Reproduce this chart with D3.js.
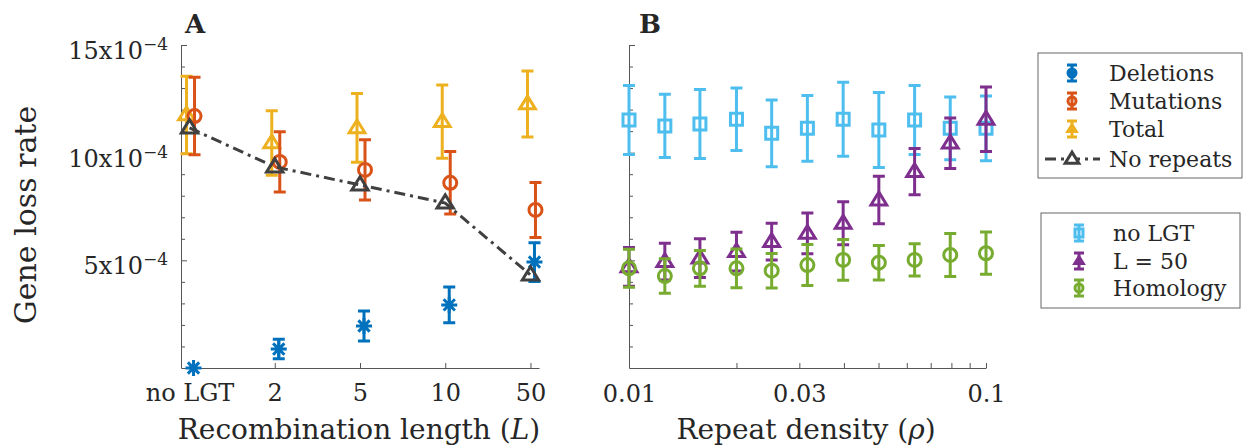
<!DOCTYPE html>
<html>
<head>
    <title>Gene loss rate</title>
    <script src="https://d3js.org/d3.v7.min.js"></script>
    <style>
        body { margin: 0; background: #fff; }
        text { font-family: "DejaVu Serif", serif; fill: #262626; }
        .axis path, .axis line { stroke: #555; stroke-width: 1px; }
    </style>
</head>
<body>
    <script>
        // gene loss rates are given in units of 1e-4
        const catsA = ["no LGT", "2", "5", "10", "50"];
        const delMean = [0, 0.88, 1.95, 2.93, 4.92];
        const delErr  = [0, 0.45, 0.7, 0.83, 0.9];
        const mutMean = [11.7, 9.57, 9.2, 8.6, 7.34];
        const mutErr  = [1.8, 1.4, 1.4, 1.45, 1.28];
        const totMean = [11.75, 10.45, 11.15, 11.44, 12.26];
        const totErr  = [1.8, 1.5, 1.6, 1.7, 1.53];
        const noRepeats = [11.15, 9.34, 8.5, 7.66, 4.32];

        const rho = [0.01, 0.0126, 0.0158, 0.02, 0.0251, 0.0316, 0.0398, 0.0501, 0.0631, 0.0794, 0.1];
        const noLgtMean = [11.52, 11.24, 11.33, 11.55, 10.9, 11.13, 11.55, 11.05, 11.52, 11.13, 11.13];
        const noLgtErr  = [1.6, 1.47, 1.6, 1.45, 1.55, 1.53, 1.72, 1.74, 1.6, 1.46, 1.5];
        const l50Mean = [4.7, 4.94, 5.1, 5.4, 5.87, 6.25, 6.72, 7.8, 9.12, 10.44, 11.55];
        const l50Err  = [0.9, 0.85, 0.9, 0.9, 0.85, 0.95, 1.0, 1.1, 1.07, 1.17, 1.5];
        const homMean = [4.63, 4.27, 4.63, 4.63, 4.52, 4.78, 5.02, 4.89, 5.02, 5.25, 5.33];
        const homErr  = [0.88, 0.8, 0.83, 0.9, 0.8, 0.95, 0.95, 0.8, 0.75, 1.0, 0.98];

        const yTicks = [5, 10, 15];
        const rhoTickLabels = [0.01, 0.03, 0.1];

        const colors = {
            del: "#0072BD", mut: "#D95319", tot: "#EDB120", rep: "#404040",
            noLgt: "#4DBEEE", l50: "#7E2F8E", hom: "#77AC30"
        };

        const svg = d3.select("body").append("svg")
            .attr("width", 1244)
            .attr("height", 448);

        // scales
        const y = d3.scaleLinear().domain([0, 15]).range([368, 45]);
        const xA = d3.scaleLinear().domain([-0.1, 4.1]).range([181, 539]);
        const xB = d3.scaleLog().domain([0.01, 0.1]).range([629, 986]);

        // marker paths centred on 0,0
        function markerPath(type, s) {
            if (type === "circle") return d3.symbol(d3.symbolCircle, Math.PI * s * s)();
            if (type === "square") return `M${-s},${-s}H${s}V${s}H${-s}Z`;
            if (type === "triangle") {
                const h = s * 1.7;
                return `M0,${-h * 0.62}L${s * 1.05},${h * 0.38}L${-s * 1.05},${h * 0.38}Z`;
            }
            if (type === "asterisk") {
                const d = s * 0.707;
                return `M${-s},0H${s}M0,${-s}V${s}M${-d},${-d}L${d},${d}M${-d},${d}L${d},${-d}`;
            }
        }

        function drawErrSeries(g, xs, means, errs, color, type, size) {
            const grp = g.append("g")
                .attr("stroke", color)
                .attr("stroke-width", 3)
                .attr("fill", "none");
            const pts = means.map((m, i) => ({ x: xs[i], m: m, e: errs[i] }));
            grp.selectAll(".bar").data(pts.filter(d => d.e > 0)).join("path")
                .attr("d", d => `M${d.x},${y(d.m - d.e)}V${y(d.m + d.e)}` +
                    `M${d.x - 6},${y(d.m - d.e)}H${d.x + 6}` +
                    `M${d.x - 6},${y(d.m + d.e)}H${d.x + 6}`);
            grp.selectAll(".mk").data(pts).join("path")
                .attr("transform", d => `translate(${d.x},${y(d.m)})`)
                .attr("d", markerPath(type, size));
        }

        function yAxis(g, x0, labels) {
            const minor = g.append("g").attr("class", "axis")
                .attr("transform", `translate(${x0},0)`)
                .call(d3.axisLeft(y).tickValues(d3.range(1, 16)).tickSize(-4).tickSizeOuter(0).tickFormat(""));
            minor.selectAll(".tick").filter(d => yTicks.includes(d)).select("line").attr("x2", 6);
            if (labels) {
                yTicks.forEach(t => {
                    const txt = g.append("text")
                        .attr("x", x0 - 13)
                        .attr("y", y(t) + 14)
                        .attr("text-anchor", "end")
                        .style("font-size", "24px");
                    txt.append("tspan").text(t + "x10");
                    txt.append("tspan").attr("dy", -9).style("font-size", "17px").text("\u22124");
                });
            }
        }

        // ---- panel A ----
        const gA = svg.append("g");
        yAxis(gA, 181, true);

        gA.append("g").attr("class", "axis")
            .attr("transform", "translate(0,368)")
            .call(d3.axisBottom(xA).tickValues([0, 1, 2, 3, 4]).tickSize(-5).tickSizeOuter(0)
                .tickFormat((d, i) => catsA[i]))
            .call(a => a.selectAll("text").attr("dy", null).attr("y", 33)
                .style("font-size", "24px").attr("fill", "#262626"));

        const idx = [0, 1, 2, 3, 4];
        drawErrSeries(gA, idx.map(i => xA(i) - 3), totMean, totErr, colors.tot, "triangle", 7.5);
        drawErrSeries(gA, idx.map(i => xA(i) + 5), mutMean, mutErr, colors.mut, "circle", 6.5);
        drawErrSeries(gA, idx.map(i => xA(i) + 4), delMean, delErr, colors.del, "asterisk", 8);

        const line = d3.line().x((d, i) => xA(i)).y(d => y(d));
        gA.append("path")
            .datum(noRepeats)
            .attr("d", line)
            .attr("fill", "none")
            .attr("stroke", colors.rep)
            .attr("stroke-width", 3)
            .attr("stroke-dasharray", "11,5,3,5");
        gA.selectAll(".rep").data(noRepeats).join("path")
            .attr("transform", (d, i) => `translate(${xA(i)},${y(d)})`)
            .attr("d", markerPath("triangle", 7.8))
            .attr("fill", "none")
            .attr("stroke", colors.rep)
            .attr("stroke-width", 3);

        gA.append("text").attr("x", 185).attr("y", 33)
            .style("font-size", "26px").style("font-weight", "bold").attr("fill", "#000").text("A");

        // ---- panel B ----
        const gB = svg.append("g");
        yAxis(gB, 629, false);

        const rhoTicks = [0.01, 0.02, 0.03, 0.04, 0.05, 0.06, 0.07, 0.08, 0.09, 0.1];
        gB.append("g").attr("class", "axis")
            .attr("transform", "translate(0,368)")
            .call(d3.axisBottom(xB).tickValues(rhoTicks).tickSize(-5).tickSizeOuter(0)
                .tickFormat(d => rhoTickLabels.includes(d) ? String(d) : ""))
            .call(a => a.selectAll("text").attr("dy", null).attr("y", 34)
                .style("font-size", "24px").attr("fill", "#262626"));

        const xsB = rho.map(r => xB(r));
        drawErrSeries(gB, xsB, noLgtMean, noLgtErr, colors.noLgt, "square", 6);
        drawErrSeries(gB, xsB, l50Mean, l50Err, colors.l50, "triangle", 7.5);
        drawErrSeries(gB, xsB, homMean, homErr, colors.hom, "circle", 6.5);

        gB.append("text").attr("x", 639).attr("y", 33)
            .style("font-size", "26px").style("font-weight", "bold").attr("fill", "#000").text("B");

        // ---- axis titles ----
        svg.append("text")
            .attr("transform", "translate(36,215) rotate(-90)")
            .attr("text-anchor", "middle")
            .style("font-size", "30px")
            .text("Gene loss rate");

        const tA = svg.append("text").attr("x", 359).attr("y", 439)
            .attr("text-anchor", "middle").style("font-size", "28px");
        tA.append("tspan").text("Recombination length (");
        tA.append("tspan").style("font-style", "italic").text("L");
        tA.append("tspan").text(")");

        const tB = svg.append("text").attr("x", 806).attr("y", 439)
            .attr("text-anchor", "middle").style("font-size", "28px");
        tB.append("tspan").text("Repeat density (");
        tB.append("tspan").style("font-style", "italic").text("\u03c1");
        tB.append("tspan").text(")");

        // ---- legends ----
        function legend(x0, y0, w, h, entries) {
            const g = svg.append("g");
            g.append("rect").attr("x", x0).attr("y", y0).attr("width", w).attr("height", h)
                .attr("fill", "#fff").attr("stroke", "#666").attr("stroke-width", 1);
            entries.forEach(e => {
                const sx = e.sx, sy = e.y;
                const sg = g.append("g").attr("stroke", e.color).attr("stroke-width", 3).attr("fill", "none");
                if (e.line) {
                    sg.append("path").attr("d", `M${x0 + 7},${sy}H${x0 + 62}`)
                        .attr("stroke-dasharray", "11,5,3,5");
                    sg.append("path").attr("transform", `translate(${sx},${sy})`)
                        .attr("d", markerPath(e.type, 6.5)).attr("fill", "#fff");
                } else {
                    sg.append("path").attr("d", `M${sx},${sy - 8}V${sy + 8}M${sx - 5},${sy - 8}H${sx + 5}M${sx - 5},${sy + 8}H${sx + 5}`);
                    sg.append("path").attr("transform", `translate(${sx},${sy})`)
                        .attr("d", markerPath(e.type, 4))
                        .attr("fill", e.filled ? e.color : "none");
                }
                g.append("text").attr("x", e.tx).attr("y", sy + 8)
                    .style("font-size", "22px").text(e.label);
            });
        }

        legend(1038, 53, 204, 125, [
            { label: "Deletions", color: colors.del, type: "circle", filled: true, y: 73, sx: 1072, tx: 1109 },
            { label: "Mutations", color: colors.mut, type: "circle", y: 101, sx: 1072, tx: 1109 },
            { label: "Total", color: colors.tot, type: "triangle", y: 129, sx: 1072, tx: 1109 },
            { label: "No repeats", color: colors.rep, type: "triangle", line: true, y: 159, sx: 1072, tx: 1109 }
        ]);

        legend(1041, 213, 199, 95, [
            { label: "no LGT", color: colors.noLgt, type: "square", y: 233, sx: 1079, tx: 1113 },
            { label: "L = 50", color: colors.l50, type: "triangle", y: 261, sx: 1079, tx: 1113 },
            { label: "Homology", color: colors.hom, type: "circle", y: 288, sx: 1079, tx: 1113 }
        ]);
    </script>
</body>
</html>
